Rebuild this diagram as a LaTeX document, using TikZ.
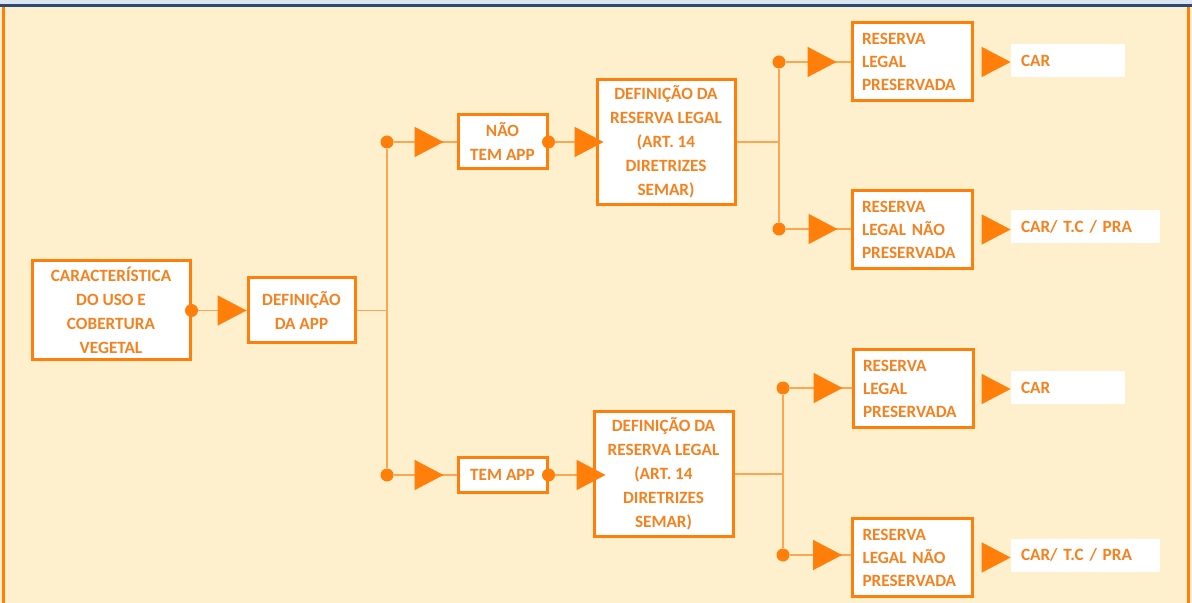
\documentclass[tikz,border=0pt]{standalone}
\usepackage{fontspec}
\setmainfont{Carlito}
\usetikzlibrary{arrows.meta,positioning,calc}
\definecolor{Orange}{HTML}{FF7F0A}
\definecolor{OrangeTxt}{HTML}{F5821F}
\definecolor{Wire}{HTML}{FBA652}
\definecolor{Paper}{HTML}{FFF0CD}
\definecolor{Sky}{HTML}{DCE6F2}
\definecolor{Navy}{HTML}{2B4A75}
\tikzset{
 box/.style={draw=Orange,line width=1.5pt,fill=white,text=OrangeTxt,align=center,font=\fontsize{8.6}{12}\selectfont\bfseries,inner sep=2pt},
 rlbox/.style={box,align=left,text width=50pt,inner xsep=5pt,minimum height=39pt,font=\fontsize{8.6}{11.5}\selectfont\bfseries},
 outbox/.style={fill=white,text=OrangeTxt,align=left,font=\fontsize{8.6}{12}\selectfont\bfseries,inner xsep=5pt,minimum height=16.5pt},
 dot/.style={circle,fill=Orange,inner sep=0pt,minimum size=6.5pt},
 wire/.style={draw=Wire,line width=.8pt},
 tri/.style={wire,-{Triangle[length=14.5pt,width=15pt,color=Orange]}}
}
\begin{document}
\begin{tikzpicture}[x=.5pt,y=-.5pt]
\useasboundingbox (0,0) rectangle (1192,603);
% fundo
\fill[Paper] (0,0) rectangle (1192,603);
\fill[Sky] (0,0) rectangle (1192,4);
\fill[Navy] (0,4) rectangle (1192,7);
\fill[Orange] (2,7) rectangle (5,603);
\fill[Orange] (1187,7) rectangle (1190,603);

% caixas
\node[box,minimum width=79pt,minimum height=49.5pt] (carac) at (111,310.5) {CARACTERÍSTICA\\DO USO E\\COBERTURA\\VEGETAL};
\node[box,minimum width=53.5pt,minimum height=32.5pt] (defapp) at (301.5,310.5) {DEFINIÇÃO\\DA APP};
\node[box,minimum width=44.5pt,minimum height=27pt] (naotem) at (502.5,142) {NÃO\\TEM APP};
\node[box,minimum width=44.5pt,minimum height=17.5pt] (tem) at (502.5,475) {TEM APP};
\node[box,minimum width=69pt,minimum height=62.5pt] (defrlA) at (666,142) {DEFINIÇÃO DA\\RESERVA LEGAL\\(ART. 14\\DIRETRIZES\\SEMAR)};
\node[box,minimum width=69.5pt,minimum height=62pt] (defrlB) at (663.5,474) {DEFINIÇÃO DA\\RESERVA LEGAL\\(ART. 14\\DIRETRIZES\\SEMAR)};
\node[rlbox] (rlpA) at (912,62) {RESERVA\\LEGAL\\PRESERVADA};
\node[rlbox] (rlnA) at (912,229.5) {RESERVA\\LEGAL NÃO\\PRESERVADA};
\node[rlbox] (rlpB) at (913,389) {RESERVA\\LEGAL\\PRESERVADA};
\node[rlbox] (rlnB) at (912.5,557.5) {RESERVA\\LEGAL NÃO\\PRESERVADA};
\node[outbox,text width=47pt] (carA) at (1068,61) {CAR};
\node[outbox,text width=64.5pt] (praA) at (1085.5,227) {CAR/ T.C / PRA};
\node[outbox,text width=47pt] (carB) at (1068,388) {CAR};
\node[outbox,text width=64.5pt] (praB) at (1085.5,555) {CAR/ T.C / PRA};

% pontos
\node[dot] (dA) at (carac.east) {};
\node[dot] (dN) at (naotem.east) {};
\node[dot] (dT) at (tem.east) {};
\node[dot] (j1) at (387,142) {};
\node[dot] (j2) at (387,475) {};
\node[dot] (j3) at (779,62) {};
\node[dot] (j4) at (779,229) {};
\node[dot] (j5) at (783,388) {};
\node[dot] (j6) at (783,555) {};
\coordinate (tA) at (387,310.5);
\coordinate (tB) at (779,142);
\coordinate (tC) at (783,474);

% troncos
\draw[wire] (defapp.east) -- (tA);
\draw[wire] (j1) -- (j2);
\draw[wire] (defrlA.east) -- (tB);
\draw[wire] (j3) -- (j4);
\draw[wire] (defrlB.east) -- (tC);
\draw[wire] (j5) -- (j6);

% setas
\foreach \a/\b/\s in {dA/defapp/0pt,j1/naotem/6.5pt,dN/defrlA/-4pt,j2/tem/6.5pt,dT/defrlB/-6.5pt,j3/rlpA/7pt,j4/rlnA/6.5pt,j5/rlpB/4.5pt,j6/rlnB/4.5pt} {
 \draw[wire] (\a) -- (\a -| \b.west);
 \draw[tri,shorten >=\s] (\a) -- (\a -| \b.west);
}
\foreach \a/\b in {rlpA/carA,rlnA/praA,rlpB/carB,rlnB/praB}
 \draw[tri,shorten <=4.5pt] (\a) -- (\a -| \b.west);
\end{tikzpicture}
\end{document}
